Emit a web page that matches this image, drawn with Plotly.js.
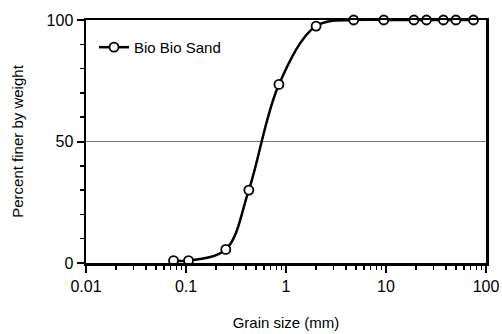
<!DOCTYPE html>
<html>
<head>
<meta charset="utf-8">
<script src="https://cdn.plot.ly/plotly-3.0.1.min.js"></script>
<style>html,body{margin:0;padding:0;background:#fff}#chart{width:502px;height:334px}</style>
</head>
<body>
<div id="chart"></div>
<script>
const seriesName = "Bio Bio Sand";
const grainSize = [0.075, 0.106, 0.25, 0.425, 0.85, 2.0, 4.75, 9.5, 19, 25.4, 37.5, 50, 75];
const percentFiner = [1, 1, 5.6, 30, 73.5, 97.5, 100, 100, 100, 100, 100, 100, 100];
const xTickVals = [0.01, 0.1, 1, 10, 100];
const xTickText = ["0.01", "0.1", "1", "10", "100"];
const yTickVals = [0, 50, 100];
const decades = [0.01, 0.1, 1, 10];
const digits = [2, 3, 4, 5, 6, 7, 8, 9];
const xMinorVals = decades.flatMap(d => digits.map(k => d * k));

const font = "Liberation Sans, Arial, sans-serif";
Plotly.newPlot("chart", [{
  x: grainSize, y: percentFiner, name: seriesName,
  type: "scatter", mode: "lines+markers",
  line: {color: "#000", width: 2.5, shape: "spline", smoothing: 1},
  marker: {symbol: "circle", size: 9, color: "#fff", line: {color: "#000", width: 1.8}},
  cliponaxis: false
}], {
  width: 502, height: 334,
  margin: {l: 86, r: 16, t: 20, b: 71},
  paper_bgcolor: "#fff", plot_bgcolor: "#fff",
  font: {family: font, size: 15, color: "#000"},
  showlegend: true,
  legend: {x: 0.02, y: 0.955, xanchor: "left", yanchor: "top", bgcolor: "rgba(0,0,0,0)",
           font: {size: 15}, itemwidth: 30},
  xaxis: {
    type: "log", range: [-2, 2],
    tickvals: xTickVals, ticktext: xTickText,
    ticks: "outside", ticklen: 7, tickwidth: 2, tickcolor: "#000",
    tickfont: {size: 16},
    minor: {tickmode: "array", tickvals: xMinorVals, ticks: "outside", ticklen: 4, tickwidth: 1.5, tickcolor: "#000", showgrid: false},
    showline: true, linewidth: 2.5, linecolor: "#000", mirror: true,
    showgrid: false, zeroline: false,
    title: {text: "Grain size (mm)", font: {size: 15}, standoff: 24}
  },
  yaxis: {
    range: [0, 100], tickvals: yTickVals,
    ticks: "outside", ticklen: 7, tickwidth: 2, tickcolor: "#000",
    tickfont: {size: 16},
    minor: {dtick: 10, ticks: "outside", ticklen: 4, tickwidth: 1.5, tickcolor: "#000", showgrid: false},
    showline: true, linewidth: 2.5, linecolor: "#000", mirror: true,
    showgrid: true, gridcolor: "#777", gridwidth: 1, zeroline: false,
    title: {text: "Percent finer by weight", font: {size: 15}, standoff: 20}
  }
}, {displayModeBar: false, staticPlot: true});
</script>
</body>
</html>
